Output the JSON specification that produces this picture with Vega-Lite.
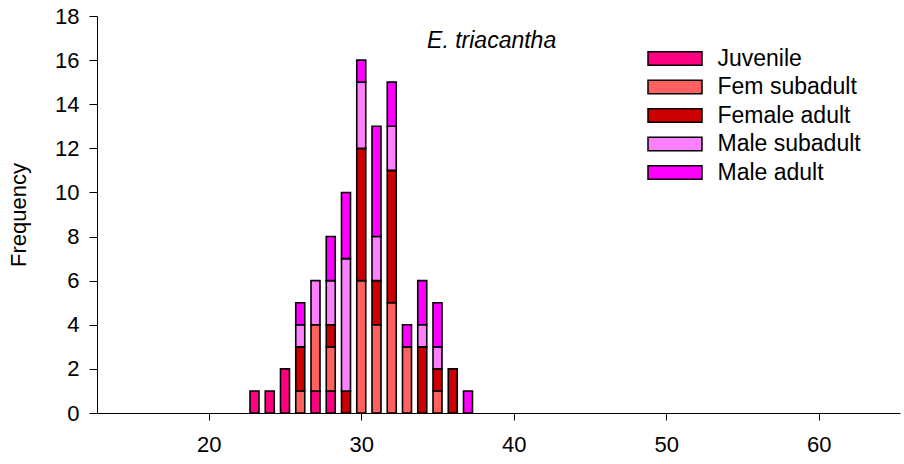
{
  "$schema": "https://vega.github.io/schema/vega-lite/v6.json",
  "width": 803,
  "height": 397,
  "autosize": {"type": "none"},
  "padding": {"left": 97, "top": 16, "right": 4, "bottom": 51},
  "background": "white",
  "config": {"view": {"stroke": null}, "font": "Liberation Sans"},
  "data": {"values": [
    {"len": 23, "cls": "Juvenile", "o": 1, "n": 1},
    {"len": 24, "cls": "Juvenile", "o": 1, "n": 1},
    {"len": 25, "cls": "Juvenile", "o": 1, "n": 2},
    {"len": 26, "cls": "Fem subadult", "o": 2, "n": 1},
    {"len": 26, "cls": "Female adult", "o": 3, "n": 2},
    {"len": 26, "cls": "Male subadult", "o": 4, "n": 1},
    {"len": 26, "cls": "Male adult", "o": 5, "n": 1},
    {"len": 27, "cls": "Juvenile", "o": 1, "n": 1},
    {"len": 27, "cls": "Fem subadult", "o": 2, "n": 3},
    {"len": 27, "cls": "Male subadult", "o": 4, "n": 2},
    {"len": 28, "cls": "Juvenile", "o": 1, "n": 1},
    {"len": 28, "cls": "Fem subadult", "o": 2, "n": 2},
    {"len": 28, "cls": "Female adult", "o": 3, "n": 1},
    {"len": 28, "cls": "Male subadult", "o": 4, "n": 2},
    {"len": 28, "cls": "Male adult", "o": 5, "n": 2},
    {"len": 29, "cls": "Female adult", "o": 3, "n": 1},
    {"len": 29, "cls": "Male subadult", "o": 4, "n": 6},
    {"len": 29, "cls": "Male adult", "o": 5, "n": 3},
    {"len": 30, "cls": "Fem subadult", "o": 2, "n": 6},
    {"len": 30, "cls": "Female adult", "o": 3, "n": 6},
    {"len": 30, "cls": "Male subadult", "o": 4, "n": 3},
    {"len": 30, "cls": "Male adult", "o": 5, "n": 1},
    {"len": 31, "cls": "Fem subadult", "o": 2, "n": 4},
    {"len": 31, "cls": "Female adult", "o": 3, "n": 2},
    {"len": 31, "cls": "Male subadult", "o": 4, "n": 2},
    {"len": 31, "cls": "Male adult", "o": 5, "n": 5},
    {"len": 32, "cls": "Fem subadult", "o": 2, "n": 5},
    {"len": 32, "cls": "Female adult", "o": 3, "n": 6},
    {"len": 32, "cls": "Male subadult", "o": 4, "n": 2},
    {"len": 32, "cls": "Male adult", "o": 5, "n": 2},
    {"len": 33, "cls": "Fem subadult", "o": 2, "n": 3},
    {"len": 33, "cls": "Male adult", "o": 5, "n": 1},
    {"len": 34, "cls": "Female adult", "o": 3, "n": 3},
    {"len": 34, "cls": "Male subadult", "o": 4, "n": 1},
    {"len": 34, "cls": "Male adult", "o": 5, "n": 2},
    {"len": 35, "cls": "Fem subadult", "o": 2, "n": 1},
    {"len": 35, "cls": "Female adult", "o": 3, "n": 1},
    {"len": 35, "cls": "Male subadult", "o": 4, "n": 1},
    {"len": 35, "cls": "Male adult", "o": 5, "n": 2},
    {"len": 36, "cls": "Female adult", "o": 3, "n": 2},
    {"len": 37, "cls": "Male adult", "o": 5, "n": 1}
  ]},
  "layer": [
    {
      "mark": {"type": "bar", "width": 9, "stroke": "black", "strokeWidth": 1.6, "opacity": 1},
      "encoding": {
        "x": {
          "field": "len", "type": "quantitative",
          "scale": {"domain": [13, 65], "nice": false, "zero": false},
          "axis": {
            "title": null, "values": [20, 30, 40, 50, 60], "grid": false,
            "domainColor": "black", "domainWidth": 1, "tickColor": "black", "tickSize": 7,
            "labelFontSize": 22, "labelColor": "black", "labelPadding": 14, "labelFlush": false
          }
        },
        "y": {
          "field": "n", "type": "quantitative", "stack": "zero",
          "scale": {"domain": [0, 18], "nice": false},
          "axis": {
            "title": "Frequency", "values": [0, 2, 4, 6, 8, 10, 12, 14, 16, 18], "grid": false,
            "domainColor": "black", "domainWidth": 1, "tickColor": "black", "tickSize": 8,
            "labelFontSize": 22, "labelColor": "black", "labelPadding": 10,
            "titleFontSize": 22, "titleFontWeight": "normal", "titleColor": "black", "titlePadding": 24
          }
        },
        "color": {
          "field": "cls", "type": "nominal",
          "scale": {
            "domain": ["Juvenile", "Fem subadult", "Female adult", "Male subadult", "Male adult"],
            "range": ["#FF0080", "#FF6060", "#CC0000", "#FF80FF", "#FF00FF"]
          },
          "legend": {
            "title": null, "orient": "none", "legendX": 563.5, "legendY": 28,
            "symbolType": "M-2,-0.5H2V0.5H-2Z", "symbolSize": 729,
            "symbolStrokeColor": "black", "symbolStrokeWidth": 1.5, "symbolOpacity": 1,
            "labelFontSize": 23, "labelColor": "black", "labelOffset": 28,
            "rowPadding": 1.5, "padding": 0
          }
        },
        "order": {"field": "o", "type": "quantitative"}
      }
    },
    {
      "data": {"values": [{"label": "E. triacantha"}]},
      "mark": {"type": "text", "fontSize": 23, "fontStyle": "italic", "align": "center", "baseline": "alphabetic", "color": "black"},
      "encoding": {
        "x": {"datum": 38.55},
        "y": {"datum": 16.55},
        "text": {"field": "label"}
      }
    }
  ]
}
